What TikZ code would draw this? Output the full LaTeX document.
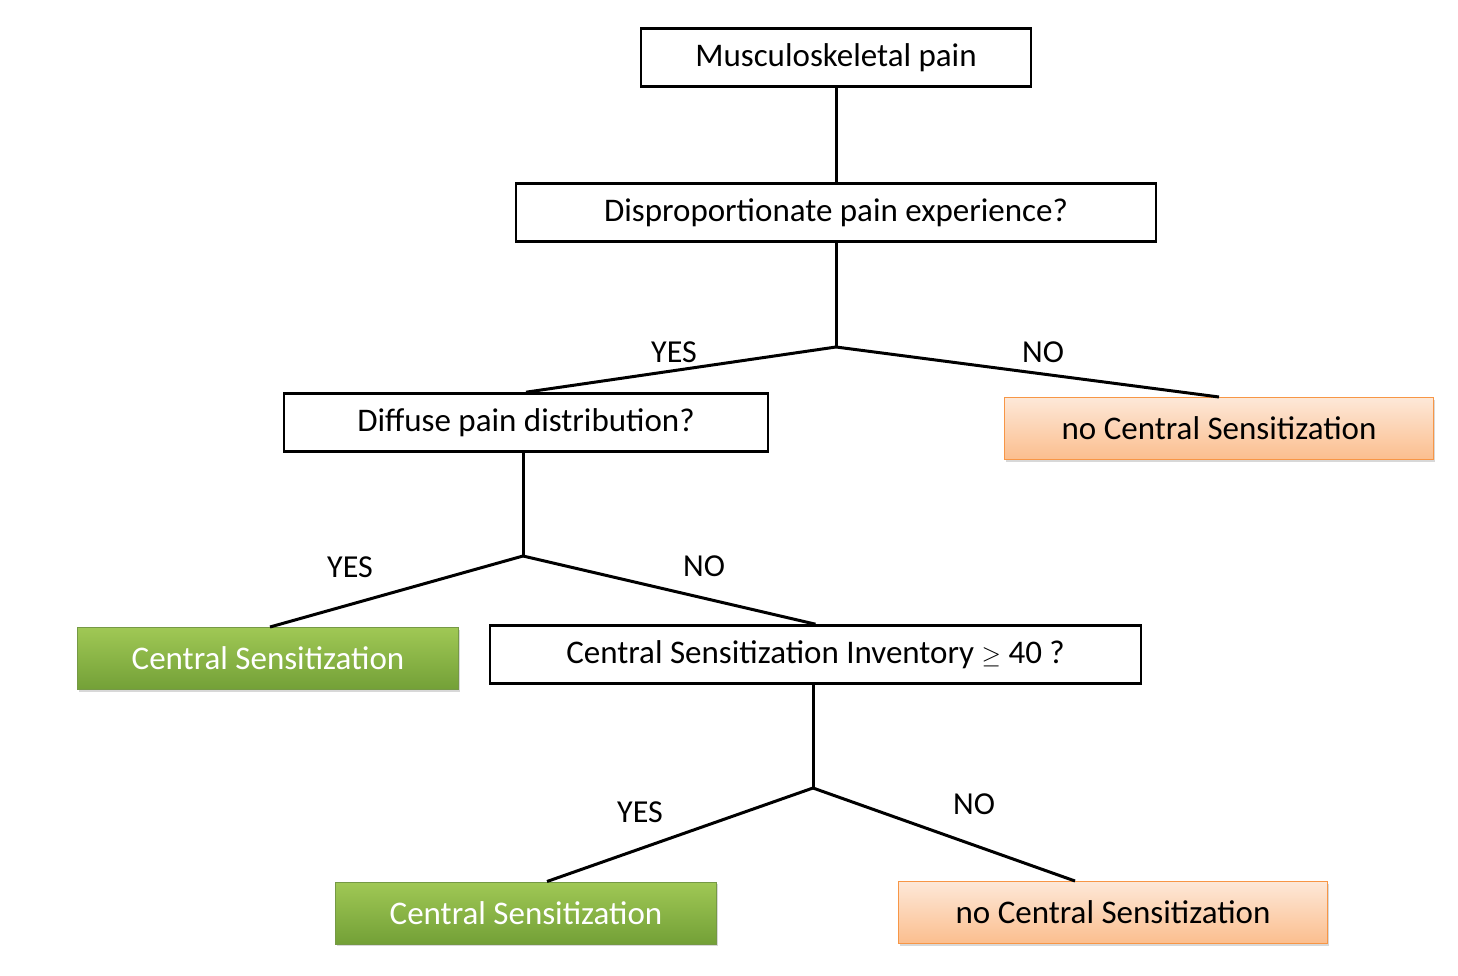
\documentclass[tikz,border=0pt]{standalone}
\usepackage{fontspec}
\setmainfont{Carlito}
\usetikzlibrary{shadows}

\definecolor{boxgreenT}{RGB}{160,200,85}
\definecolor{boxgreenB}{RGB}{115,160,55}
\definecolor{boxorangeT}{RGB}{253,232,216}
\definecolor{boxorangeB}{RGB}{251,190,142}
\definecolor{boxorangeD}{RGB}{247,150,70}

\tikzset{
  question/.style={draw=black, line width=2.6pt, minimum height=58pt, inner sep=0pt},
  yesbox/.style={top color=boxgreenT, bottom color=boxgreenB, draw=boxgreenB!80!gray, line width=1pt,
    minimum height=62pt, minimum width=381pt, text=white, drop shadow={shadow xshift=1pt, shadow yshift=-2pt, fill=gray!60}},
  nobox/.style={top color=boxorangeT, bottom color=boxorangeB, draw=boxorangeD, line width=1pt,
    minimum height=62pt, minimum width=429pt, drop shadow={shadow xshift=1pt, shadow yshift=-2pt, fill=gray!60}},
  branch/.style={line width=3pt},
  answer/.style={font=\fontsize{32}{36}\selectfont}
}

\begin{document}
\begin{tikzpicture}[x=1pt,y=-1pt,font=\fontsize{33}{38}\selectfont]
\useasboundingbox (0,0) rectangle (1458,976);

% questions
\node[question, minimum width=390pt] (pain) at (836,57.5) {Musculoskeletal pain};
\node[question, minimum width=640pt] (dispro) at (836,212.5) {Disproportionate pain experience?};
\node[question, minimum width=484pt] (diffuse) at (526,422.5) {Diffuse pain distribution?};
\node[question, minimum width=651pt] (csi) at (815.5,654.5) {Central Sensitization Inventory $\geq$ 40 ?};

% outcomes
\node[nobox] (noCSa) at (1219,428.5) {no Central Sensitization};
\node[yesbox] (CSa) at (268,658.5) {Central Sensitization};
\node[yesbox] (CSb) at (526,913) {Central Sensitization};
\node[nobox] (noCSb) at (1113,912.5) {no Central Sensitization};

% junctions
\coordinate (j1) at (836,347);
\coordinate (j2) at (523,556);
\coordinate (j3) at (813,788);

\draw[branch] (pain) -- (dispro);
\draw[branch] (dispro) -- (j1);
\draw[branch] (j1) -- (diffuse.north);
\draw[branch] (j1) -- (noCSa.north);
\draw[branch] (diffuse.south -| j2) -- (j2);
\draw[branch] (j2) -- ([xshift=2pt]CSa.north);
\draw[branch] (j2) -- (csi.north);
\draw[branch] (csi.south -| j3) -- (j3);
\draw[branch] (j3) -- ([xshift=21pt]CSb.north);
\draw[branch] (j3) -- ([xshift=-38pt]noCSb.north);

% labels
\node[answer] (yes1) at (674,352) {YES};
\node[answer] (no1) at (1043,352) {NO};
\node[answer] (yes2) at (350,567) {YES};
\node[answer] (no2) at (704,566) {NO};
\node[answer] (yes3) at (640,812) {YES};
\node[answer] (no3) at (974,804) {NO};
\end{tikzpicture}
\end{document}
